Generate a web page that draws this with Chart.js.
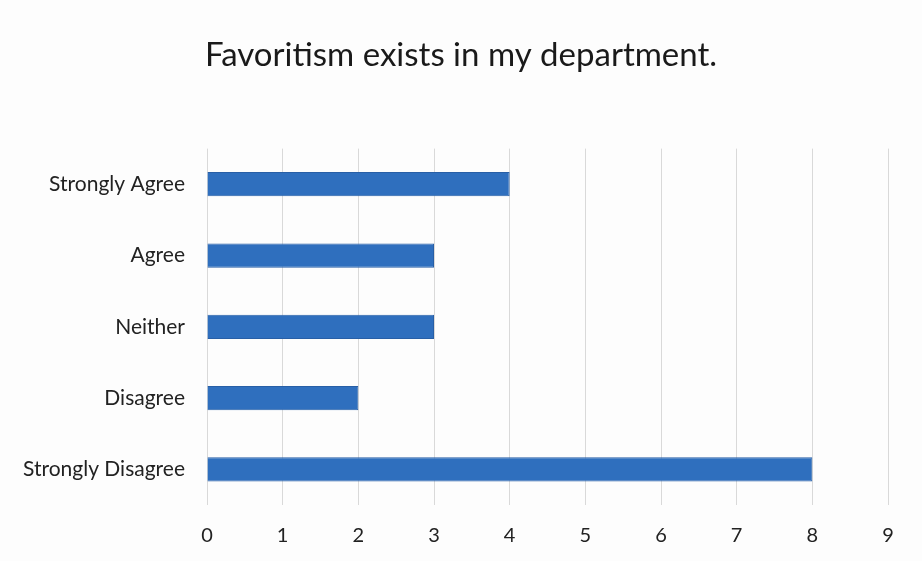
<!DOCTYPE html>
<html>
<head>
<meta charset="utf-8">
<script src="https://cdn.jsdelivr.net/npm/chart.js@4"></script>
<style>
  html, body { margin: 0; padding: 0; background: #fdfdfd; }
  #wrap { width: 922px; height: 561px; }
</style>
</head>
<body>
<div id="wrap"><canvas id="favoritismChart" width="922" height="561"></canvas></div>
<script>
var categories = ['Strongly Agree', 'Agree', 'Neither', 'Disagree', 'Strongly Disagree'];
var responses = [4, 3, 3, 2, 8];
var xTicks = [0, 1, 2, 3, 4, 5, 6, 7, 8, 9];

function initialize() {
    var ctx = document.getElementById('favoritismChart').getContext('2d');
    new Chart(ctx, {
        type: 'bar',
        data: {
            labels: categories,
            datasets: [{
                data: responses,
                backgroundColor: '#2f6fbe',
                borderColor: '#285fa6',
                borderWidth: 1,
                barPercentage: 0.34,
                categoryPercentage: 1
            }]
        },
        options: {
            indexAxis: 'y',
            responsive: false,
            animation: false,
            layout: { padding: 0 },
            plugins: {
                legend: { display: false },
                tooltip: { enabled: false },
                title: {
                    display: true,
                    text: 'Favoritism exists in my department.',
                    color: '#1a1a1a',
                    font: { family: 'Lato', size: 33, weight: 'normal' },
                    padding: { top: 36, bottom: 73 }
                }
            },
            scales: {
                x: {
                    min: 0,
                    max: 9,
                    afterBuildTicks: function (axis) {
                        axis.ticks = xTicks.map(function (v) { return { value: v }; });
                    },
                    afterFit: function (axis) { axis.height = 56; },
                    grid: { color: '#d9d9d9', lineWidth: 1, drawTicks: false },
                    border: { display: false },
                    ticks: { color: '#222', padding: 19, font: { family: 'Lato', size: 20 } }
                },
                y: {
                    afterFit: function (axis) { axis.width = 207; },
                    grid: { display: false, drawTicks: false },
                    border: { display: false },
                    ticks: { color: '#222', padding: 22, font: { family: 'Lato', size: 21 } }
                },
                // empty right-hand spacer so the title stays centred on the page
                spacer: {
                    type: 'linear',
                    position: 'right',
                    afterFit: function (axis) { axis.width = 34; },
                    grid: { display: false, drawTicks: false },
                    border: { display: false },
                    ticks: { display: false }
                }
            }
        }
    });
}
initialize();
</script>
</body>
</html>
